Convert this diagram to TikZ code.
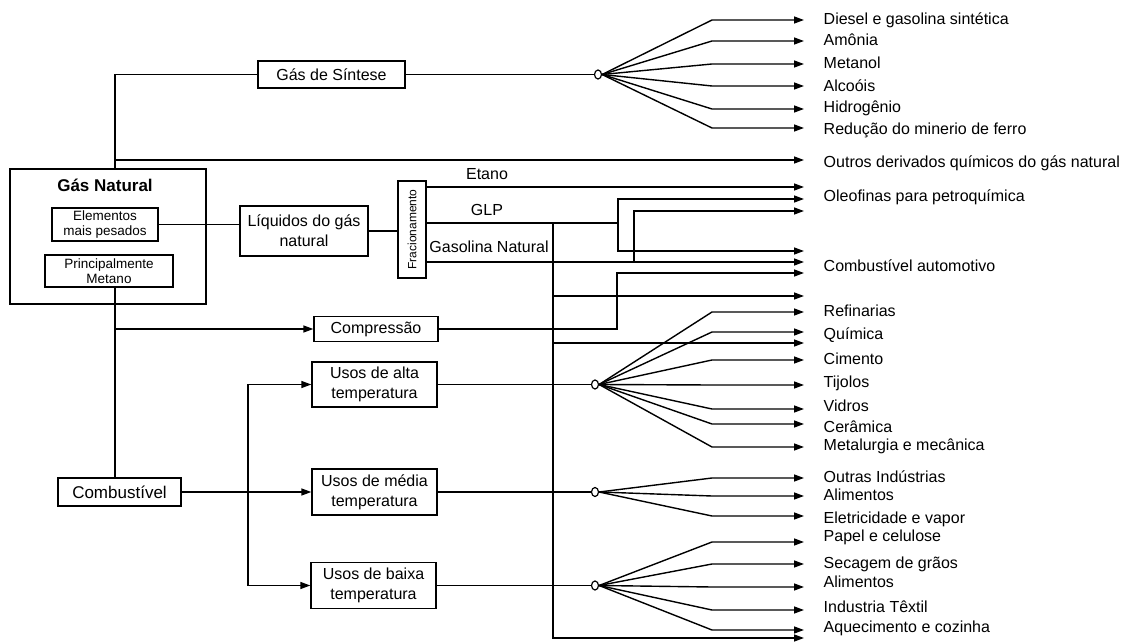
\documentclass[tikz,border=0pt]{standalone}
\usepackage{fontspec}
\setmainfont{Liberation Sans}
\usetikzlibrary{arrows.meta,shapes.geometric}

\begin{document}
\begin{tikzpicture}[x=1bp,y=-1bp,
  line width=1.4bp,
  tip/.style={-{Triangle[length=10bp,width=7bp]}},
  box/.style={draw, inner sep=0pt, align=center, font=\fontsize{16bp}{20bp}\selectfont},
  smallbox/.style={draw, inner sep=0pt, align=center, font=\fontsize{13.5bp}{15bp}\selectfont},
  lbl/.style={anchor=mid west, inner sep=0pt, font=\fontsize{16bp}{19bp}\selectfont},
  txt/.style={inner sep=0pt, font=\fontsize{16bp}{19bp}\selectfont},
  dot/.style={draw, ellipse, fill=white, minimum width=7bp, minimum height=9bp, inner sep=0pt, line width=1.2bp},
]
\useasboundingbox (0,0) rectangle (1127,642);

% ---------- boxes ----------
\node[draw, minimum width=196bp, minimum height=135bp, inner sep=0pt] (gn) at (108,236.5) {};
\node[inner sep=0pt, font=\bfseries\fontsize{17bp}{20bp}\selectfont] (gntitle) at (105,185) {Gás Natural};
\node[smallbox, minimum width=106bp, minimum height=33bp] (elem) at (105,224.5) {Elementos\\mais pesados};
\node[smallbox, minimum width=128bp, minimum height=32bp] (princ) at (109,271) {Principalmente\\Metano};

\node[box, minimum width=147bp, minimum height=27bp] (sint) at (331.5,74.5) {Gás de Síntese};
\node[box, minimum width=128bp, minimum height=50bp] (liq) at (304,231) {Líquidos do gás\\natural};
\node[draw, inner sep=0pt, minimum width=28bp, minimum height=97bp] (frac) at (412,229.5) {};
\node[inner sep=0pt, rotate=90, font=\fontsize{12bp}{14bp}\selectfont] (fractxt) at (frac.center) {Fracionamento};
\node[box, minimum width=124bp, minimum height=25bp] (comp) at (376,329) {Compressão};
\node[box, minimum width=125bp, minimum height=45bp] (alta) at (374.5,384.5) {Usos de alta\\temperatura};
\node[box, minimum width=125bp, minimum height=46bp] (media) at (374.5,492) {Usos de média\\temperatura};
\node[box, minimum width=125bp, minimum height=46bp] (baixa) at (373.5,585.5) {Usos de baixa\\temperatura};
\node[box, minimum width=123bp, minimum height=28bp, font=\fontsize{17bp}{20bp}\selectfont] (comb) at (119.5,492) {Combustível};

% ---------- stream labels after fractionation ----------
\node[txt] (etano) at (487,174) {Etano};
\node[txt] (glp) at (487,210) {GLP};
\node[txt] (gasnat) at (489,247) {Gasolina Natural};

% ---------- junction dots ----------
\node[dot] (c1) at (598,74.5) {};
\node[dot] (c2) at (595,384.5) {};
\node[dot] (c3) at (595,492) {};
\node[dot] (c4) at (595,585.5) {};

% ---------- left trunk ----------
\coordinate (gtop) at (115,169);
\coordinate (jo) at (115,160);
\coordinate (tOutros) at (804,160);
\draw (gtop) |- (sint.west);
\draw[tip] (jo) -- (tOutros);
\draw (princ.south -| gtop) -- (comb.north -| gtop);
\draw[tip] (comp.west -| gtop) -- (comp.west);

\draw (elem.east) -- (elem.east -| liq.west);
\draw (liq.east) -- (liq.east -| frac.west);

% ---------- fuel uses ----------
\coordinate (cj) at (248,492);
\draw[tip] (comb.east) -- (media.west);
\draw[tip] (cj) |- (alta.west);
\draw[tip] (cj) |- (baixa.west);

\draw (sint.east) -- (c1.west);
\draw (alta.east) -- (c2.west);
\draw (media.east) -- (c3.west);
\draw (baixa.east) -- (c4.west);

% ---------- fractionation streams ----------
\coordinate (tEtano) at (804,187);
\draw[tip] (frac.east |- tEtano) -- (tEtano);

\coordinate (glpJ) at (618,223);
\coordinate (glpV) at (553,223);
\coordinate (tOleo2) at (804,199);
\coordinate (tAuto1) at (804,251);
\draw (frac.east |- glpJ) -- (glpJ);
\draw[tip] (glpJ) |- (tOleo2);
\draw[tip] (glpJ) |- (tAuto1);
\coordinate (tX1) at (804,296);
\coordinate (tX2) at (804,343);
\coordinate (tX3) at (804,638);
\draw[tip] (glpV) |- (tX3);
\draw[tip] (glpV |- tX1) -- (tX1);
\draw[tip] (glpV |- tX2) -- (tX2);

\coordinate (tAuto2) at (804,262);
\coordinate (gasJ) at (634,262);
\coordinate (tOleo3) at (804,211);
\draw[tip] (frac.east |- tAuto2) -- (tAuto2);
\draw[tip] (gasJ) |- (tOleo3);

\coordinate (compJ) at (617,273);
\coordinate (tAuto3) at (804,273);
\draw[tip] (comp.east) -| (compJ) -- (tAuto3);

% ---------- fans ----------
\foreach \n/\y in {s1/20, s2/41, s3/64, s4/86, s5/109, s6/128}{
  \coordinate (t-\n) at (804,\y);
  \draw[tip] (c1.east) -- ([xshift=-92bp]t-\n) -- (t-\n);
}
\foreach \n/\y in {a1/312, a2/332, a3/360, a4/385, a5/409, a6/424, a7/447}{
  \coordinate (t-\n) at (804,\y);
  \draw[tip] (c2.east) -- ([xshift=-92bp]t-\n) -- (t-\n);
}
\foreach \n/\y in {m1/478, m2/496, m3/516}{
  \coordinate (t-\n) at (804,\y);
  \draw[tip] (c3.east) -- ([xshift=-92bp]t-\n) -- (t-\n);
}
\foreach \n/\y in {b1/542, b2/564, b3/587, b4/610, b5/630}{
  \coordinate (t-\n) at (804,\y);
  \draw[tip] (c4.east) -- ([xshift=-92bp]t-\n) -- (t-\n);
}

% ---------- product labels ----------
\node[lbl] (l-s1) at (823,22) {Diesel e gasolina sintética};
\node[lbl] (l-s2) at (823,43) {Amônia};
\node[lbl] (l-s3) at (823,66) {Metanol};
\node[lbl] (l-s4) at (823,89) {Alcoóis};
\node[lbl] (l-s5) at (823,110) {Hidrogênio};
\node[lbl] (l-s6) at (823,132) {Redução do minerio de ferro};
\node[lbl] (l-out) at (823,165) {Outros derivados químicos do gás natural};
\node[lbl] (l-ole) at (823,199) {Oleofinas para petroquímica};
\node[lbl] (l-aut) at (823,269) {Combustível automotivo};
\node[lbl] (l-a1) at (823,314) {Refinarias};
\node[lbl] (l-a2) at (823,337) {Química};
\node[lbl] (l-a3) at (823,362) {Cimento};
\node[lbl] (l-a4) at (823,385) {Tijolos};
\node[lbl] (l-a5) at (823,409) {Vidros};
\node[lbl] (l-a6) at (823,430) {Cerâmica};
\node[lbl] (l-a7) at (823,448) {Metalurgia e mecânica};
\node[lbl] (l-m1) at (823,480) {Outras Indústrias};
\node[lbl] (l-m2) at (823,498) {Alimentos};
\node[lbl] (l-m3) at (823,521) {Eletricidade e vapor};
\node[lbl] (l-b1) at (823,539) {Papel e celulose};
\node[lbl] (l-b2) at (823,566) {Secagem de grãos};
\node[lbl] (l-b3) at (823,585) {Alimentos};
\node[lbl] (l-b4) at (823,610) {Industria Têxtil};
\node[lbl] (l-b5) at (823,630) {Aquecimento e cozinha};
\end{tikzpicture}
\end{document}
